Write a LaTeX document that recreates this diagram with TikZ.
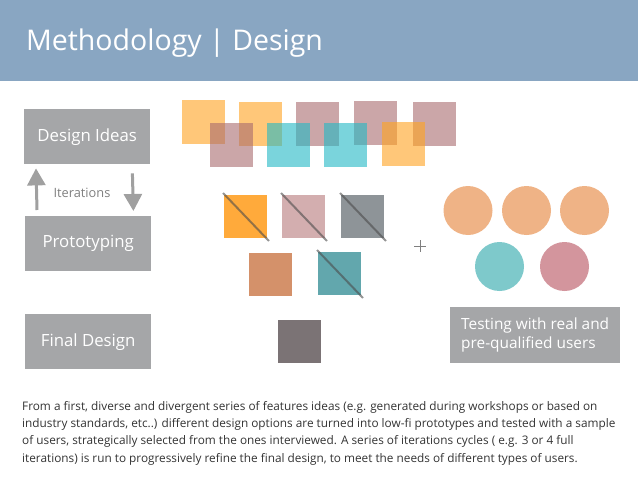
\documentclass[tikz,border=0pt]{standalone}
\usepackage{fontspec}
\setmainfont{Open Sans}
\usepackage{xcolor}
\usepackage{tikz}
\usetikzlibrary{arrows.meta,positioning}
\definecolor{hdrBlue}{HTML}{89A6C2}
\definecolor{boxGray}{HTML}{A5A6A8}
\definecolor{arrowGray}{HTML}{A0A0A0}
\definecolor{iterGray}{HTML}{7F7F7F}
\definecolor{bodyText}{HTML}{333333}
\definecolor{orangeT}{HTML}{FFA21F}
\definecolor{mauveT}{HTML}{A86B6E}
\definecolor{tealT}{HTML}{22B8C4}
\definecolor{orangeS}{HTML}{FFAA3B}
\definecolor{mauveS}{HTML}{D3AEAF}
\definecolor{grayS}{HTML}{8E9498}
\definecolor{brownS}{HTML}{D4916A}
\definecolor{tealS}{HTML}{62A7AD}
\definecolor{finalS}{HTML}{7B7375}
\definecolor{peachC}{HTML}{EFB386}
\definecolor{tealC}{HTML}{7EC9CB}
\definecolor{pinkC}{HTML}{D3959D}

\begin{document}
\begin{tikzpicture}[x=1pt, y=-1pt, every node/.style={font=\small},
    stagebox/.style={fill=boxGray, text=white, anchor=north west, inner sep=0,
      minimum width=126, minimum height=55, font=\fontsize{16.8}{19}\selectfont},
    iterarrow/.style={-{Triangle[width=18pt,length=17pt]}, line width=3pt, draw=arrowGray},
    slash/.style={draw=black!70, line width=2pt, opacity=0.6}]
    \useasboundingbox (0,0) rectangle (638,479);

    % === Header band ===
    \fill[hdrBlue] (0,0) rectangle (638,81);
    \node[anchor=base west, text=white, inner sep=0,
          font=\fontsize{28.5}{32}\selectfont] (title) at (26,50) {Methodology | Design};

    % === Process stages (left column) ===
    \node[stagebox] (ideas) at (24,109) {Design Ideas};
    \node[stagebox] (proto) at (25,216) {Prototyping};
    \node[stagebox] (final) at (25,314) {Final Design};

    % --- iteration arrows ---
    \draw[iterarrow] ([xshift=12,yshift=6]proto.north west) -- ([xshift=12,yshift=-4]ideas.south west);
    \draw[iterarrow] ([xshift=-18,yshift=-9]ideas.south east) -- ([xshift=-18,yshift=5]proto.north east);
    \node[text=iterGray, font=\fontsize{12.8}{14}\selectfont] (iter) at (82,193) {Iterations};

    % === Feature ideas (overlapping, translucent) ===
    \foreach \x/\y/\c in {182/100/orangeT, 239/102/orangeT, 296/102/mauveT,
                          354/101/mauveT, 413/102/mauveT, 210/123/mauveT,
                          267/123/tealT, 324/123/tealT, 382/122/orangeT} {
      \fill[\c, fill opacity=0.6] (\x,\y) rectangle ++(43,44);
    }

    % === Prototypes (some crossed out) ===
    \foreach \x/\y/\c in {224/195/orangeS, 282/195/mauveS, 341/195/grayS,
                          249/253/brownS, 318/252/tealS} {
      \fill[\c] (\x,\y) rectangle ++(43,43);
    }
    \foreach \x/\y in {224/195, 282/195, 341/195, 318/252} {
      \draw[slash] (\x-1,\y-2) -- (\x+45,\y+46);
    }

    % === Final design ===
    \fill[finalS] (278,320) rectangle ++(43,43);

    % === Users ===
    \draw[iterGray, line width=0.8pt] (414,246) -- (426,246) (420,240) -- (420,252);
    \foreach \x/\y/\c in {468/210.5/peachC, 526.5/210.5/peachC, 584.5/210.5/peachC,
                          499.5/266.5/tealC, 564.5/266.5/pinkC} {
      \fill[\c] (\x,\y) circle (24.5);
    }
    \node[stagebox, minimum width=170, minimum height=56, align=left,
          font=\fontsize{15.4}{19.5}\selectfont] (test) at (450,307)
      {Testing with real and\\pre-qualified users};

    % === Description ===
    \node[anchor=base west, inner sep=0, align=left, text=bodyText,
          font=\fontsize{11.8}{17.3}\selectfont] (desc) at (22,462)
      {From a first, diverse and divergent series of features ideas (e.g. generated during workshops or based on\\
       industry standards, etc..) different design options are turned into low-fi prototypes and tested with a sample\\
       of users, strategically selected from the ones interviewed. A series of iterations cycles ( e.g. 3 or 4 full\\
       iterations) is run to progressively refine the final design, to meet the needs of different types of users.};
\end{tikzpicture}
\end{document}
